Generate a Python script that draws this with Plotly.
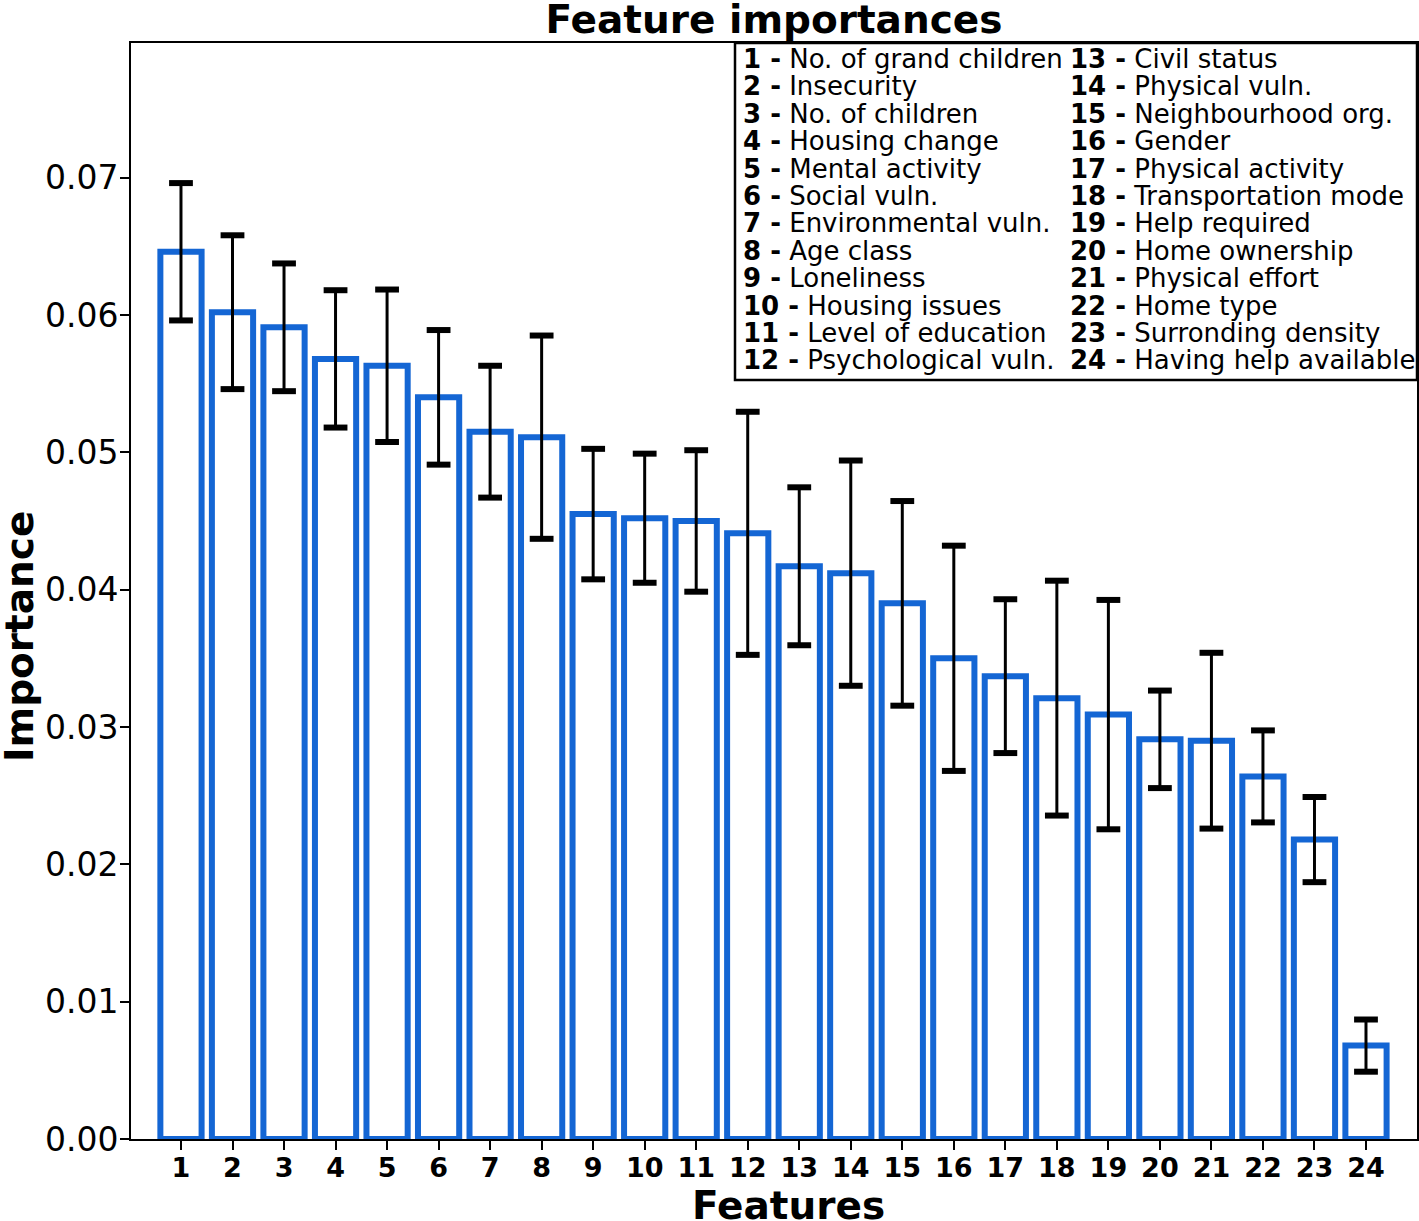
import plotly.graph_objects as go

features = list(range(1, 25))
importance = [0.0646, 0.0602, 0.0591, 0.0568, 0.0563, 0.0540, 0.0515, 0.0511,
              0.0455, 0.0452, 0.0450, 0.0441, 0.0417, 0.0412, 0.0390, 0.0350,
              0.0337, 0.0321, 0.0309, 0.0291, 0.0290, 0.0264, 0.0218, 0.0068]
std = [0.0050, 0.0056, 0.00465, 0.0050, 0.00555, 0.0049, 0.0048, 0.0074,
       0.00475, 0.0047, 0.00515, 0.00885, 0.00575, 0.0082, 0.00745, 0.0082,
       0.0056, 0.00855, 0.00835, 0.00355, 0.0064, 0.00335, 0.0031, 0.0019]
names = ["No. of grand children", "Insecurity", "No. of children", "Housing change",
         "Mental activity", "Social vuln.", "Environmental vuln.", "Age class",
         "Loneliness", "Housing issues", "Level of education", "Psychological vuln.",
         "Civil status", "Physical vuln.", "Neighbourhood org.", "Gender",
         "Physical activity", "Transportation mode", "Help required", "Home ownership",
         "Physical effort", "Home type", "Surronding density", "Having help available"]
y_ticks = [0.00, 0.01, 0.02, 0.03, 0.04, 0.05, 0.06, 0.07]

FONT = "DejaVu Sans"
BLUE = "rgb(20,102,212)"

fig = go.Figure()
fig.add_trace(go.Bar(
    x=features, y=importance, width=0.8,
    marker=dict(color="white", line=dict(color=BLUE, width=6)),
    error_y=dict(type="data", array=std, visible=True, color="black",
                 thickness=3, width=0),
    hoverinfo="skip", showlegend=False,
))
upper = [v + s for v, s in zip(importance, std)]
lower = [v - s for v, s in zip(importance, std)]
fig.add_trace(go.Scatter(
    x=features + features, y=upper + lower, mode="markers",
    marker=dict(symbol="line-ew", size=17, line=dict(color="black", width=6)),
    hoverinfo="skip", showlegend=False,
))

W, H = 1419, 1221
L, R, T, B = 131, 2, 43, 82
pw, ph = W - L - R, H - T - B

fig.update_layout(
    width=W, height=H,
    margin=dict(l=L, r=R, t=T, b=B, autoexpand=False),
    paper_bgcolor="white", plot_bgcolor="white",
    font=dict(family=FONT, color="black"),
    title=dict(text="<b>Feature importances</b>", x=(L + pw / 2) / W, xanchor="center",
               y=1 - 19 / H, yanchor="middle", font=dict(size=39, family=FONT)),
    xaxis=dict(range=[0.03, 24.99], tickvals=features,
               ticktext=[f"<b>{f}</b>" for f in features],
               tickfont=dict(size=27, family=FONT), ticks="outside", ticklen=9,
               tickwidth=2, tickcolor="black", showline=True, linecolor="black",
               linewidth=2, mirror=True, showgrid=False, zeroline=False,
               ticklabelstandoff=-5, automargin=False),
    yaxis=dict(range=[0, 0.0798], tickvals=y_ticks,
               ticktext=[f"{v:.2f}" for v in y_ticks],
               tickfont=dict(size=33, family=FONT), ticks="outside", ticklen=9,
               tickwidth=2, tickcolor="black", showline=True, linecolor="black",
               linewidth=2, mirror=True, showgrid=False, zeroline=False,
               ticklabelstandoff=-5, automargin=False),
)

# axis titles
fig.add_annotation(xref="paper", yref="paper", x=(788 - L) / pw, y=-(1205 - T - ph) / ph,
                   xanchor="center", yanchor="middle", showarrow=False,
                   text="<b>Features</b>", font=dict(size=39, family=FONT, color="black"))
fig.add_annotation(xref="paper", yref="paper", x=(19 - L) / pw, y=1 - (637 - T) / ph,
                   xanchor="center", yanchor="middle", showarrow=False, textangle=-90,
                   text="<b>Importance</b>", font=dict(size=39, family=FONT, color="black"))

# legend box
box_x0 = (735 - L) / pw
box_y0 = (H - B - 380) / ph
fig.add_shape(type="rect", xref="paper", yref="paper", x0=box_x0, x1=1.0,
              y0=box_y0, y1=1.0, line=dict(color="black", width=2.5),
              fillcolor="white", layer="above")
col_x = [(741 - L) / pw, (1068 - L) / pw]
row0, step = 59, 27.4
for i, name in enumerate(names):
    col = i // 12
    row = i % 12
    ypix = row0 + row * step
    fig.add_annotation(xref="paper", yref="paper", x=col_x[col],
                       y=1 - (ypix - T) / ph, xanchor="left", yanchor="middle",
                       text=f"<b>{i + 1} -</b> {name}", showarrow=False,
                       font=dict(size=26, family=FONT, color="black"))

fig.write_html("out.html", config={"displayModeBar": False},
               post_script="document.body.style.margin='0';")
